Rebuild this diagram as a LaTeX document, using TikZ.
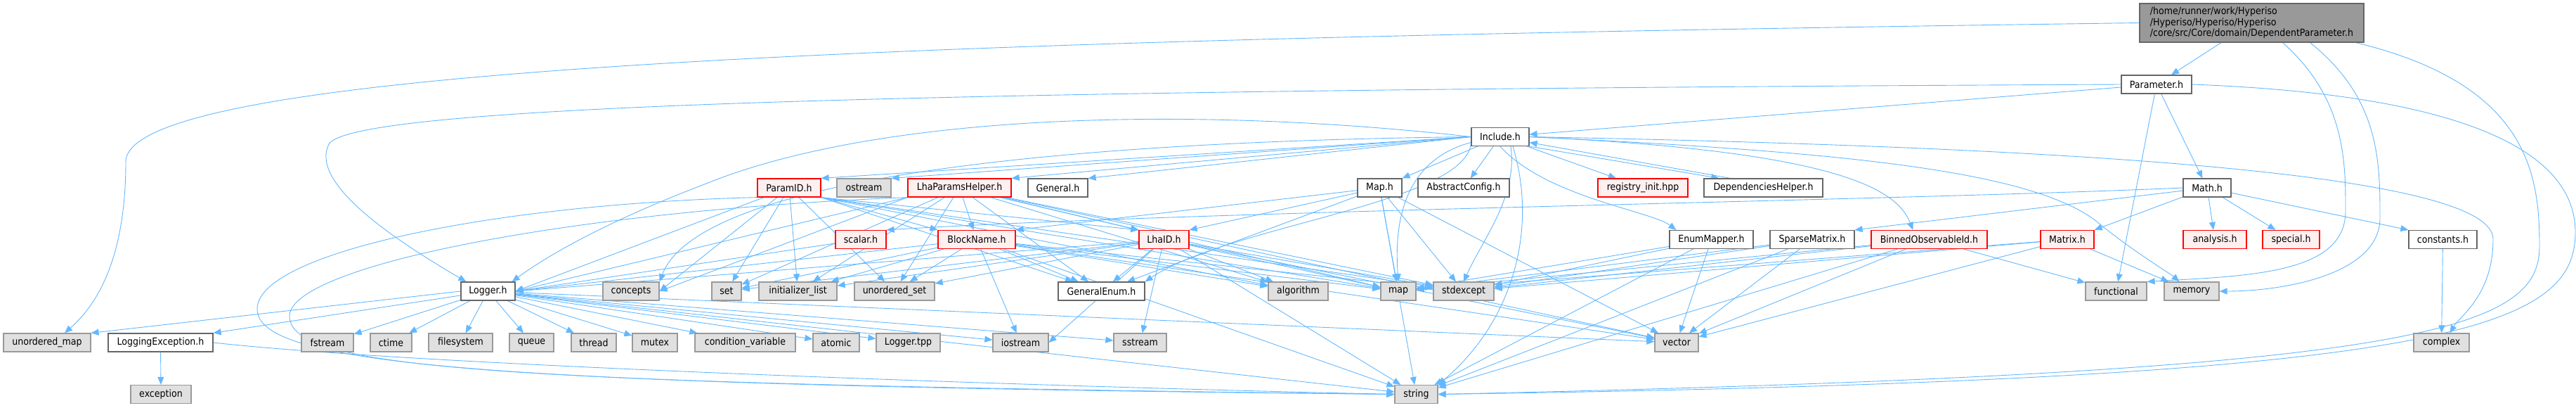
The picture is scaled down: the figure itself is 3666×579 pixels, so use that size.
\documentclass[tikz,border=0pt]{standalone}
\usepackage{fontspec}
\setmainfont{DejaVu Sans Condensed}
\usetikzlibrary{arrows.meta,calc}
\definecolor{EdgeBlue}{HTML}{63B8FF}
\definecolor{RootFill}{HTML}{999999}
\definecolor{BoxLine}{HTML}{666666}
\definecolor{SysFill}{HTML}{E0E0E0}
\definecolor{SysLine}{HTML}{999999}
\definecolor{CutFill}{HTML}{FFF0F0}
\definecolor{CutLine}{HTML}{FF0000}
\pgfdeclarelayer{back}\pgfsetlayers{back,main}
\tikzset{filebox/.style={draw=BoxLine,fill=white,line width=1.2pt,minimum height=26pt,inner sep=0pt,font=\fontsize{14}{15.5}\selectfont},sysbox/.style={filebox,draw=SysLine,fill=SysFill},cutbox/.style={filebox,draw=CutLine,fill=CutFill},rootbox/.style={filebox,fill=RootFill},inc/.style={draw=EdgeBlue,line width=0.9pt,-{Triangle[length=11pt,width=9pt]}}}

\begin{document}
\begin{tikzpicture}[x=1pt,y=-1pt]
\useasboundingbox (0,0) rectangle (3666,579);
% root, Parameter.h, Include.h
\node[rootbox,minimum width=319pt,minimum height=55pt,align=left] (dep) at (3204.5,32.5) {/home/runner/work/Hyperiso\\/Hyperiso/Hyperiso/Hyperiso\\/core/src/Core/domain/DependentParameter.h};
\node[filebox,minimum width=100pt] (param) at (3069,120) {Parameter.h};
\node[filebox,minimum width=82pt] (include) at (2135,194.5) {Include.h};
% row of headers under Include.h
\node[cutbox,minimum width=90pt] (paramid) at (1123,267) {ParamID.h};\node[sysbox,minimum width=77pt] (ostream) at (1229.5,267) {ostream};
\node[cutbox,minimum width=147pt] (lhahelper) at (1365.5,267) {LhaParamsHelper.h};\node[filebox,minimum width=85pt] (general) at (1505.5,267) {General.h};
\node[filebox,minimum width=63pt] (maph) at (1963.5,267) {Map.h};\node[filebox,minimum width=130pt] (abstractcfg) at (2083,267) {AbstractConfig.h};
\node[cutbox,minimum width=128pt] (registry) at (2338,267) {registry\_init.hpp};\node[filebox,minimum width=169pt] (depshelper) at (2509.5,267) {DependenciesHelper.h};
\node[filebox,minimum width=68pt] (mathh) at (3141,267) {Math.h};
% second row of headers
\node[cutbox,minimum width=72pt] (scalar) at (1225,340.5) {scalar.h};\node[cutbox,minimum width=110pt] (blockname) at (1390,340.5) {BlockName.h};
\node[cutbox,minimum width=71pt] (lhaid) at (1656.5,340.5) {LhaID.h};\node[filebox,minimum width=119pt] (enummapper) at (2435.5,340.5) {EnumMapper.h};
\node[filebox,minimum width=120pt] (sparse) at (2579,340.5) {SparseMatrix.h};\node[cutbox,minimum width=165pt] (binned) at (2745.5,340.5) {BinnedObservableId.h};
\node[cutbox,minimum width=76pt] (matrix) at (2942,340.5) {Matrix.h};\node[cutbox,minimum width=90pt] (analysis) at (3152,340.5) {analysis.h};
\node[cutbox,minimum width=81pt] (special) at (3260.5,340.5) {special.h};\node[filebox,minimum width=97pt] (constants) at (3476.5,340.5) {constants.h};
% third row
\node[filebox,minimum width=77pt] (logger) at (694.5,414) {Logger.h};\node[sysbox,minimum width=80pt] (concepts) at (898,414) {concepts};
\node[sysbox,minimum width=42pt] (set) at (1034,414) {set};\node[sysbox,minimum width=111pt] (initlist) at (1135.5,414) {initializer\_list};
\node[sysbox,minimum width=114pt] (uset) at (1273,414) {unordered\_set};\node[filebox,minimum width=123pt] (genenum) at (1567.5,414) {GeneralEnum.h};
\node[sysbox,minimum width=85pt] (algorithm) at (1847.5,414) {algorithm};\node[sysbox,minimum width=50pt] (stdmap) at (1990,414) {map};
\node[sysbox,minimum width=86pt] (stdexcept) at (2083,414) {stdexcept};\node[sysbox,minimum width=87pt] (functional) at (3011.5,414) {functional};
\node[sysbox,minimum width=78pt] (memory) at (3119,414) {memory};
% fourth row
\node[sysbox,minimum width=124pt] (umap) at (67,487) {unordered\_map};\node[filebox,minimum width=149pt] (logexc) at (228.5,487) {LoggingException.h};
\node[sysbox,minimum width=74pt] (fstream) at (466,487) {fstream};\node[sysbox,minimum width=59pt] (ctime) at (556.5,487) {ctime};
\node[sysbox,minimum width=91pt] (filesystem) at (655.5,487) {filesystem};\node[sysbox,minimum width=63pt] (queue) at (756.5,487) {queue};
\node[sysbox,minimum width=64pt] (thread) at (845,487) {thread};\node[sysbox,minimum width=64pt] (mutex) at (932,487) {mutex};
\node[sysbox,minimum width=143pt] (condvar) at (1060.5,487) {condition\_variable};\node[sysbox,minimum width=66pt] (atomic) at (1190,487) {atomic};
\node[sysbox,minimum width=91pt] (loggertpp) at (1292.5,487) {Logger.tpp};\node[sysbox,minimum width=79pt] (iostream) at (1452.5,487) {iostream};
\node[sysbox,minimum width=75pt] (sstream) at (1622.5,487) {sstream};\node[sysbox,minimum width=62pt] (vector) at (2386,487) {vector};
\node[sysbox,minimum width=79pt] (complex) at (3474.5,487) {complex};
% bottom row
\node[sysbox,minimum width=86pt] (exception) at (229,560.5) {exception};\node[sysbox,minimum width=61pt] (string) at (2015.5,560.5) {string};
\begin{pgfonlayer}{back}
% DependentParameter.h
\draw[inc] (dep) -- (param);
\draw[inc] (dep.west) .. controls (1400,55) and (179,90) .. (179,230) .. controls (179,380) and (130,440) .. ($(umap.north)+(25,0)$);
\draw[inc] ($(dep.south)+(44,0)$) .. controls (3338,140) and (3338,230) .. (3338,300) .. controls (3338,390) and (3200,392) .. (functional.north east);
\draw[inc] ($(dep.south)+(83,0)$) .. controls (3387,140) and (3387,230) .. (3387,310) .. controls (3387,390) and (3250,414) .. (memory.east);
\draw[inc] ($(dep.south east)+(-12,0)$) .. controls (3600,120) and (3614,250) .. (3614,350) .. controls (3614,470) and (3450,530) .. (string.east);
% Parameter.h
\draw[inc] (param) -- (include);\draw[inc] (param) -- (mathh);\draw[inc] (param) -- (functional);
\draw[inc] (param.west) .. controls (1300,128) and (500,150) .. (468,205) .. controls (440,260) and (560,340) .. ($(logger.north west)+(8,0)$);
\draw[inc] (param.east) .. controls (3520,135) and (3665,220) .. (3665,330) .. controls (3665,470) and (3480,540) .. (string.east);
% Include.h
\draw[inc] (include.west) -- (paramid.north east);\draw[inc] (include.west) -- (ostream.north east);\draw[inc] (include.west) -- (lhahelper.north east);\draw[inc] (include.west) -- (general.north east);
\draw[inc] (include) -- (maph.north east);\draw[inc] (include) -- (abstractcfg);\draw[inc] (include) -- (registry);
\draw[inc] (include.south east) -- ($(depshelper.north west)+(22,0)$);\draw[inc] ($(depshelper.north west)+(38,0)$) -- ($(include.east)+(0,8)$);
\draw[inc] (include.south) .. controls (2200,280) and (2350,300) .. ($(enummapper.north west)+(10,0)$);
\draw[inc] (include.east) .. controls (2620,215) and (2700,270) .. ($(binned.north west)+(60,0)$);
\draw[inc] ($(include.south west)+(0,-3)$) .. controls (2080,290) and (1750,320) .. (genenum.north east);
\draw[inc] ($(include.west)+(0,8)$) .. controls (1990,230) and (1985,330) .. (stdmap.north);
\draw[inc] ($(include.south)+(15,0)$) .. controls (2160,280) and (2110,340) .. (stdexcept.north);
\draw[inc] ($(include.south)+(18,0)$) .. controls (2190,330) and (2150,460) .. (string.north east);
\draw[inc] (include.east) .. controls (2600,215) and (2900,240) .. (2990,320) .. controls (3040,360) and (3090,390) .. ($(memory.north west)+(22,0)$);
\draw[inc] (include.east) .. controls (3000,210) and (3548,250) .. (3548,340) .. controls (3548,420) and (3500,450) .. ($(complex.north)+(12,0)$);
\draw[inc] (include.west) .. controls (1700,150) and (1250,160) .. (1000,263) .. controls (850,320) and (770,370) .. ($(logger.north east)+(-5,0)$);
\draw[inc] (include.west) .. controls (1600,200) and (1000,240) .. (concepts.north east);
% Math.h
\draw[inc] (mathh.west) .. controls (2700,285) and (1700,300) .. (scalar.north east);
\draw[inc] (mathh) -- (sparse.north east);\draw[inc] (mathh) -- (matrix.north east);\draw[inc] (mathh) -- (analysis);\draw[inc] (mathh) -- (special);\draw[inc] (mathh) -- (constants.north west);
\draw[inc] (constants) -- (complex);
% ParamID.h
\draw[inc] (paramid.south east) -- (blockname.north west);\draw[inc] (paramid.south east) -- (lhaid.north west);\draw[inc] (paramid) -- (logger.east);\draw[inc] (paramid) -- (set);
\draw[inc] (paramid) -- (initlist);\draw[inc] (paramid) -- (uset);\draw[inc] (paramid) -- (concepts.east);\draw[inc] (paramid.south east) -- (genenum);
\draw[inc] (paramid.south east) -- (algorithm);\draw[inc] (paramid.south east) -- (stdmap);\draw[inc] (paramid.south east) -- (stdexcept);
\draw[inc] (paramid.south west) .. controls (700,290) and (364,360) .. (366,440) .. controls (368,520) and (700,548) .. (string.west);
% LhaParamsHelper.h
\draw[inc] (lhahelper) -- (blockname);\draw[inc] (lhahelper) -- (lhaid.north west);\draw[inc] (lhahelper.south west) -- (logger.east);\draw[inc] (lhahelper) -- (set);
\draw[inc] (lhahelper) -- (initlist);\draw[inc] (lhahelper) -- (uset);\draw[inc] (lhahelper.south west) -- (concepts.east);\draw[inc] (lhahelper) -- (genenum);
\draw[inc] (lhahelper) -- (algorithm);\draw[inc] (lhahelper) -- (stdmap);\draw[inc] (lhahelper) -- (stdexcept);\draw[inc] (lhahelper) -- (vector);
\draw[inc] (lhahelper.south west) .. controls (800,300) and (410,380) .. (412,450) .. controls (414,525) and (700,545) .. (string.west);
% Map.h
\draw[inc] (maph) -- (blockname.north east);\draw[inc] (maph) -- (lhaid.north east);\draw[inc] (maph) -- (genenum);\draw[inc] (maph) -- (stdmap);
\draw[inc] (maph) -- (vector);\draw[inc] (maph) -- (string);\draw[inc] (maph) -- (stdexcept);
% BlockName.h and LhaID.h
\draw[inc] (blockname) -- (logger.east);\draw[inc] (blockname) -- (set);\draw[inc] (blockname) -- (initlist);\draw[inc] (blockname) -- (uset);
\draw[inc] (blockname) -- (genenum);\draw[inc] (blockname) -- (algorithm);\draw[inc] (blockname) -- (stdmap);\draw[inc] (blockname) -- (stdexcept);
\draw[inc] (blockname) -- (iostream);\draw[inc] (blockname) -- (string);\draw[inc] (blockname) -- (vector);
\draw[inc] (lhaid) -- (logger.east);\draw[inc] (lhaid) -- (set);\draw[inc] (lhaid) -- (initlist);\draw[inc] (lhaid) -- (uset);
\draw[inc] (lhaid) -- (genenum);\draw[inc] (lhaid) -- (algorithm);\draw[inc] (lhaid) -- (stdmap);\draw[inc] (lhaid) -- (stdexcept);
\draw[inc] (lhaid) -- (iostream.east);\draw[inc] (lhaid) -- (sstream);\draw[inc] (lhaid) -- (string);\draw[inc] (lhaid) -- (vector);
\draw[inc] (scalar) -- (logger.east);
% EnumMapper.h, SparseMatrix.h, BinnedObservableId.h, Matrix.h
\draw[inc] (enummapper) -- (stdmap);\draw[inc] (enummapper) -- (stdexcept);\draw[inc] (enummapper) -- (vector);\draw[inc] (enummapper) -- (string);
\draw[inc] (sparse) -- (stdmap);\draw[inc] (sparse) -- (stdexcept);\draw[inc] (sparse) -- (vector);\draw[inc] (sparse) -- (string);
\draw[inc] (binned) -- (functional);\draw[inc] (binned) -- (stdexcept);\draw[inc] (binned) -- (vector);\draw[inc] (binned) -- (string);\draw[inc] (binned) -- (stdmap);
\draw[inc] (matrix) -- (memory);\draw[inc] (matrix) -- (stdexcept);\draw[inc] (matrix) -- (vector);\draw[inc] (matrix) -- (stdmap);
% Logger.h
\draw[inc] (logger.west) -- (umap.north east);\draw[inc] (logger) -- (logexc.north east);\draw[inc] (logger) -- (fstream);\draw[inc] (logger) -- (ctime);
\draw[inc] (logger) -- (filesystem);\draw[inc] (logger) -- (queue);\draw[inc] (logger) -- (thread);\draw[inc] (logger) -- (mutex);
\draw[inc] (logger) -- (condvar);\draw[inc] (logger) -- (atomic);\draw[inc] (logger) -- (loggertpp);\draw[inc] (logger) -- (iostream);
\draw[inc] (logger) -- (sstream);\draw[inc] (logger) -- (string);\draw[inc] (logger) -- (vector);
\draw[inc] (logexc) -- (exception);
\draw[inc] (logexc.east) .. controls (600,520) and (1500,550) .. (string.west);
\end{pgfonlayer}
\end{tikzpicture}
\end{document}
